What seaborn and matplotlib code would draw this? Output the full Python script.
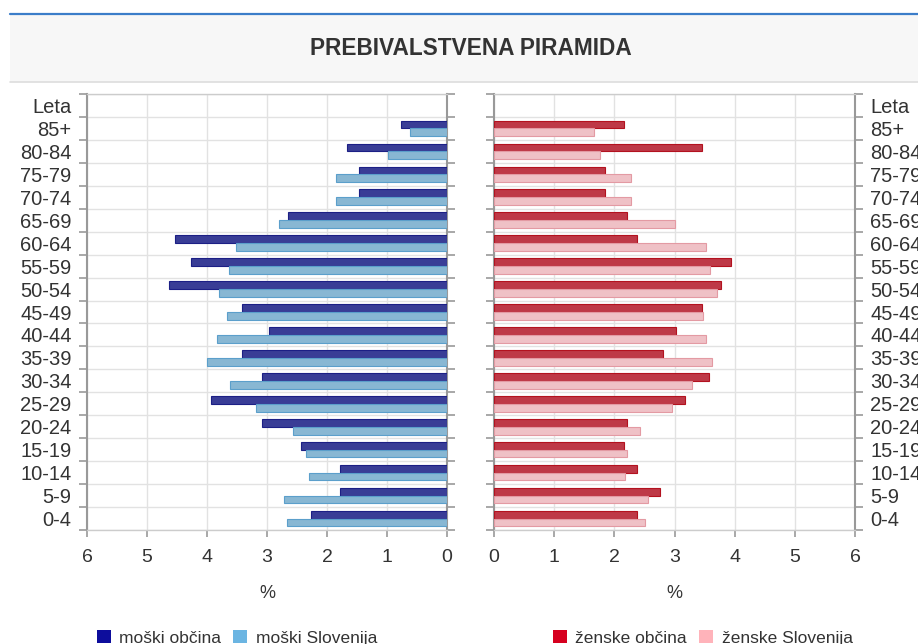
import matplotlib
matplotlib.use('Agg')
import matplotlib.pyplot as plt
from matplotlib.patches import Patch, Rectangle
from matplotlib.lines import Line2D
from matplotlib.ticker import FixedLocator
import numpy as np
import pandas as pd
import seaborn as sns

# age groups, oldest first (top of the pyramid)
ages = ['85+', '80-84', '75-79', '70-74', '65-69', '60-64', '55-59', '50-54', '45-49',
        '40-44', '35-39', '30-34', '25-29', '20-24', '15-19', '10-14', '5-9', '0-4']

# share of population in %
moski_obcina = [0.76, 1.67, 1.47, 1.47, 2.65, 4.53, 4.27, 4.63, 3.41,
                2.97, 3.41, 3.08, 3.94, 3.08, 2.43, 1.78, 1.78, 2.27]
moski_slo = [0.61, 0.99, 1.85, 1.85, 2.80, 3.52, 3.63, 3.80, 3.67,
             3.83, 4.00, 3.62, 3.18, 2.57, 2.35, 2.30, 2.72, 2.66]
zenske_obcina = [2.16, 3.46, 1.84, 1.84, 2.21, 2.38, 3.94, 3.78, 3.46,
                 3.03, 2.81, 3.57, 3.18, 2.21, 2.16, 2.38, 2.76, 2.38]
zenske_slo = [1.67, 1.76, 2.28, 2.28, 3.01, 3.52, 3.59, 3.70, 3.48,
              3.52, 3.62, 3.29, 2.96, 2.43, 2.21, 2.17, 2.56, 2.51]

df_m = pd.DataFrame({'age': ages * 2,
                     'val': moski_obcina + moski_slo,
                     'serija': ['moški občina'] * len(ages) + ['moški Slovenija'] * len(ages)})
df_z = pd.DataFrame({'age': ages * 2,
                     'val': zenske_obcina + zenske_slo,
                     'serija': ['ženske občina'] * len(ages) + ['ženske Slovenija'] * len(ages)})

sns.set_theme(style='white')
plt.rcParams['font.family'] = ['Liberation Sans', 'DejaVu Sans']
txt = '#333333'

fig = plt.figure(figsize=(9.18, 6.44), dpi=100)
fig.patch.set_facecolor('white')

# header band
fig.add_artist(Rectangle((10 / 918, 1 - 82 / 644), 1, 67 / 644, transform=fig.transFigure,
                         facecolor='#f7f7f7', edgecolor='none', zorder=0))
fig.add_artist(Line2D([10 / 918, 1], [1 - 14 / 644] * 2, transform=fig.transFigure,
                      color='#3b7dc9', lw=1.6))
fig.add_artist(Line2D([10 / 918, 1], [1 - 82 / 644] * 2, transform=fig.transFigure,
                      color='#dddddd', lw=1.2))
fig.text(471 / 918, 1 - 48.5 / 644, 'PREBIVALSTVENA PIRAMIDA', ha='center', va='center',
         fontsize=16.3, fontweight='bold', color=txt)

ax_m = fig.add_axes([87 / 918, 114 / 644, 360 / 918, 436 / 644])
ax_z = fig.add_axes([494 / 918, 114 / 644, 361 / 918, 436 / 644])

pal_m = {'moški občina': '#2a2fa5', 'moški Slovenija': '#7bbae0'}
pal_z = {'ženske občina': '#d42336', 'ženske Slovenija': '#f7b9c0'}
edge_m = ['#1c1f85', '#5b9fcb']
edge_z = ['#b3121f', '#e39aa3']

sns.barplot(data=df_m, y='age', x='val', hue='serija', order=ages, palette=pal_m,
            orient='h', width=0.68, ax=ax_m, legend=False, zorder=3)
sns.barplot(data=df_z, y='age', x='val', hue='serija', order=ages, palette=pal_z,
            orient='h', width=0.68, ax=ax_z, legend=False, zorder=3)

for ax, edges in ((ax_m, edge_m), (ax_z, edge_z)):
    for i, cont in enumerate(ax.containers):
        for bar in cont:
            bar.set_edgecolor(edges[i])
            bar.set_linewidth(0.8)

labels = ['Leta'] + ages
for ax in (ax_m, ax_z):
    ax.set_ylim(len(ages) - 0.5, -1.5)
    ax.set_yticks(np.arange(-1, len(ages)))
    ax.set_yticklabels(labels)
    ax.yaxis.set_minor_locator(FixedLocator(np.arange(-1.5, len(ages))))
    ax.set_xticks(range(0, 7))
    ax.grid(True, axis='x', which='major', color='#e2e2e2', lw=1, zorder=0)
    ax.grid(True, axis='y', which='minor', color='#e2e2e2', lw=1, zorder=0)
    ax.set_axisbelow(True)
    ax.set_ylabel('')
    ax.set_xlabel('%', fontsize=13, color=txt, labelpad=13)
    ax.tick_params(axis='y', which='major', length=0, labelsize=14.5, colors=txt, pad=11)
    ax.tick_params(axis='y', which='minor', length=6, color='#999999', width=1.2,
                   left=True, right=True)
    ax.tick_params(axis='x', which='major', length=5, color='#999999', width=1.2,
                   labelsize=14, labelcolor=txt, pad=9, bottom=True)
    for s in ('left', 'right'):
        ax.spines[s].set_color('#999999')
        ax.spines[s].set_linewidth(1.5)
    for s in ('top', 'bottom'):
        ax.spines[s].set_color('#cccccc')
        ax.spines[s].set_linewidth(1.0)

ax_m.set_xlim(6, 0)
ax_z.set_xlim(0, 6)
ax_z.yaxis.tick_right()
ax_z.tick_params(axis='y', which='minor', left=True, right=True)
for lab in ax_z.get_yticklabels():
    lab.set_horizontalalignment('left')

# legends
hm = [Patch(facecolor='#0d0d9c', edgecolor='none', label='moški občina'),
      Patch(facecolor='#6bb5e2', edgecolor='none', label='moški Slovenija')]
hz = [Patch(facecolor='#d6001f', edgecolor='none', label='ženske občina'),
      Patch(facecolor='#ffb3ba', edgecolor='none', label='ženske Slovenija')]
for handles, x0 in ((hm, 81 / 918), (hz, 537 / 918)):
    fig.legend(handles=handles, loc='center left', bbox_to_anchor=(x0, 1 - 638 / 644),
               ncol=2, frameon=False, fontsize=12.5, handlelength=0.8, handleheight=0.8,
               handletextpad=0.5, columnspacing=0.7, labelcolor=txt)

fig.savefig('out.png', dpi=100)
